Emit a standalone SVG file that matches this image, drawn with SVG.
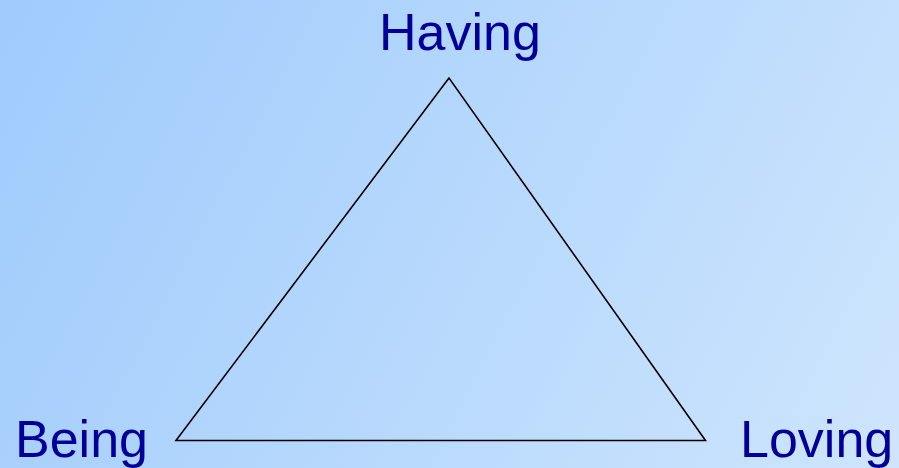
<svg xmlns="http://www.w3.org/2000/svg" width="899" height="468" viewBox="0 0 899 468">
<style>
.lbl{font-family:"Liberation Sans",Arial,sans-serif;font-size:52px;fill:#000099}
</style>
<defs>
<linearGradient id="bg" x1="0" y1="0" x2="899" y2="468" gradientUnits="userSpaceOnUse">
<stop offset="0" stop-color="#9fcbfc"/>
<stop offset="1" stop-color="#cee5fd"/>
</linearGradient>
</defs>
<rect width="899" height="468" fill="url(#bg)"/>
<g id="connectors">
<polygon points="449,78 176,440.5 705.5,440.5" fill="none" stroke="#000" stroke-width="1.6" stroke-linejoin="miter"/>
</g>
<g id="having"><text class="lbl" x="460" y="50" text-anchor="middle">Having</text></g>
<g id="being"><text class="lbl" x="15" y="457">Being</text></g>
<g id="loving"><text class="lbl" x="740" y="457">Loving</text></g>
</svg>
